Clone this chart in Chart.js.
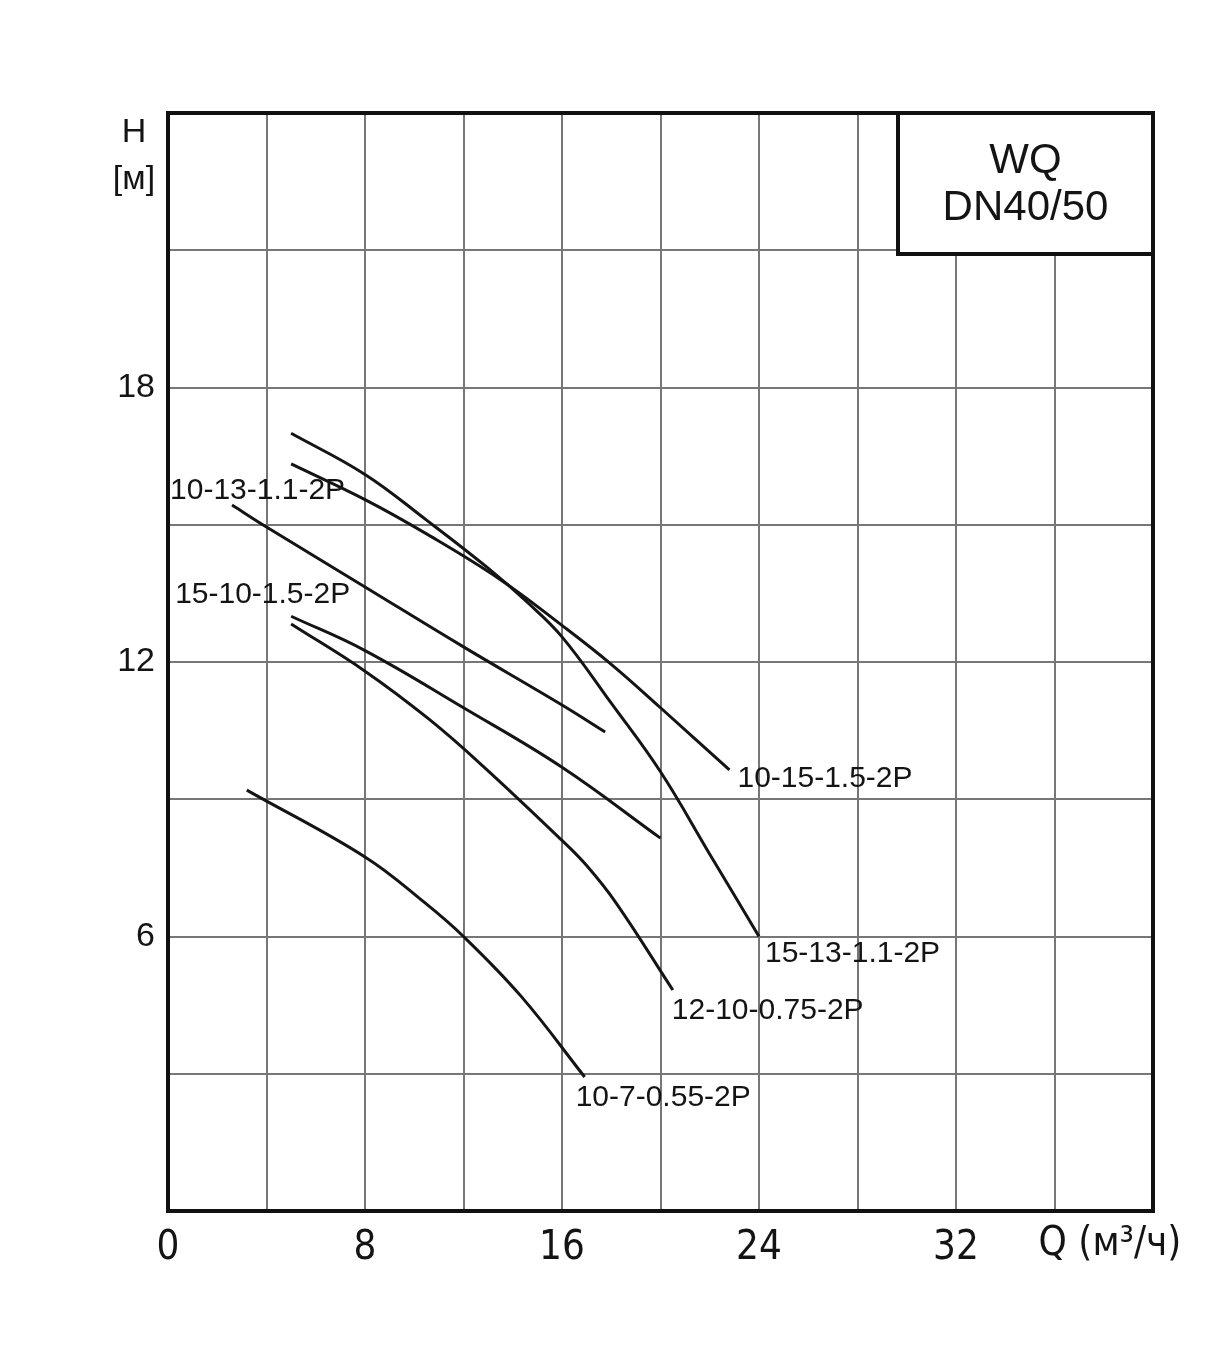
<!DOCTYPE html>
<html>
<head>
<meta charset="utf-8">
<script src="https://cdn.jsdelivr.net/npm/chart.js@4.4.1/dist/chart.umd.min.js"></script>
<style>
  html, body { margin: 0; padding: 0; background: #fff; }
  #wrap { width: 1231px; height: 1359px; }
</style>
</head>
<body>
<div id="wrap"><canvas id="pumpChart" width="1231" height="1359"></canvas></div>
<script>
// axis ticks
const qTicks = [0, 8, 16, 24, 32];
const hTicks = [6, 12, 18];

// pump curves, Q in m3/h, H in m
const names = ['15-13-1.1-2P', '10-15-1.5-2P', '10-13-1.1-2P', '15-10-1.5-2P', '12-10-0.75-2P', '10-7-0.55-2P'];

const q_15_13 = [5, 8, 10.5, 13, 14.6, 16, 18, 20, 22, 24];
const h_15_13 = [17.0, 16.1, 15.1, 14.05, 13.3, 12.55, 11.1, 9.6, 7.8, 6.0];

const q_10_15 = [5, 8, 10.5, 13.5, 16, 18, 20, 22.8];
const h_10_15 = [16.33, 15.55, 14.8, 13.8, 12.8, 11.95, 11.0, 9.64];

const q_10_13 = [2.6, 4, 8, 12, 16, 17.75];
const h_10_13 = [15.43, 14.95, 13.64, 12.33, 11.06, 10.47];

const q_15_10 = [5, 8, 12, 16, 20];
const h_15_10 = [13.0, 12.25, 11.0, 9.7, 8.15];

const q_12_10 = [5, 8, 10.6, 12.8, 16, 17, 18.2, 20.5];
const h_12_10 = [12.83, 11.8, 10.75, 9.72, 8.1, 7.55, 6.73, 4.83];

const q_10_7 = [3.2, 8, 10.4, 12, 14.36, 16.92];
const h_10_7 = [9.2, 7.74, 6.75, 6.0, 4.68, 2.93];

const qs = [q_15_13, q_10_15, q_10_13, q_15_10, q_12_10, q_10_7];
const hs = [h_15_13, h_10_15, h_10_13, h_15_10, h_12_10, h_10_7];

// where each name sits, relative to the end (or start) of its curve, in px
const labelPlace = [
    { at: 'end', dx: 6, dy: 17 },
    { at: 'end', dx: 8, dy: 9 },
    { at: 'start', dx: -62, dy: -14 },
    { at: 'start', dx: -116, dy: -22 },
    { at: 'end', dx: -1, dy: 21 },
    { at: 'end', dx: -9, dy: 21 }
];

const sans = "'Liberation Sans', Arial, sans-serif";
const narrow = "'Liberation Sans Narrow', 'DejaVu Sans Condensed', sans-serif";

const datasets = names.map((n, i) => ({
    label: n,
    data: qs[i].map((q, j) => ({ x: q, y: hs[i][j] })),
    borderColor: '#141414',
    borderWidth: 3,
    pointRadius: 0,
    fill: false,
    tension: 0.4
}));

const decorations = {
    id: 'decorations',
    afterDatasetsDraw(chart) {
        const ctx = chart.ctx;
        const a = chart.chartArea;
        const xs = chart.scales.x, ys = chart.scales.y;
        ctx.save();

        // curve names
        ctx.fillStyle = '#141414';
        ctx.font = '30px ' + sans;
        ctx.textAlign = 'left';
        ctx.textBaseline = 'middle';
        names.forEach((n, i) => {
            const p = labelPlace[i];
            const k = p.at === 'end' ? qs[i].length - 1 : 0;
            const px = xs.getPixelForValue(qs[i][k]);
            const py = ys.getPixelForValue(hs[i][k]);
            ctx.fillText(n, px + p.dx, py + p.dy);
        });

        // frame
        ctx.strokeStyle = '#111';
        ctx.lineWidth = 4;
        ctx.strokeRect(a.left, a.top, a.right - a.left, a.bottom - a.top);

        // title box
        const bw = 255, bh = 141;
        ctx.fillStyle = '#fff';
        ctx.fillRect(a.right - bw, a.top, bw, bh);
        ctx.strokeRect(a.right - bw, a.top, bw, bh);
        ctx.fillStyle = '#141414';
        ctx.font = '42px ' + sans;
        ctx.textAlign = 'center';
        ctx.fillText('WQ', a.right - bw / 2, a.top + 48);
        ctx.fillText('DN40/50', a.right - bw / 2, a.top + 95);

        // axis names
        ctx.font = '34px ' + sans;
        ctx.fillText('H', 134, a.top + 20);
        ctx.fillText('[м]', 134, a.top + 67);
        ctx.font = '40px ' + narrow;
        ctx.fillText('Q (м³/ч)', 1110, 1245);
        ctx.restore();
    }
};

new Chart(document.getElementById('pumpChart'), {
    type: 'line',
    data: { datasets: datasets },
    options: {
        responsive: false,
        animation: false,
        layout: { padding: { left: 0, top: 113, right: 78, bottom: 0 } },
        scales: {
            x: {
                type: 'linear',
                min: 0,
                max: 40,
                afterFit: s => { s.height = 148; },
                afterBuildTicks: s => { s.ticks = [0, 4, 8, 12, 16, 20, 24, 28, 32, 36, 40].map(v => ({ value: v })); },
                grid: { color: '#777', lineWidth: 2, drawTicks: false },
                border: { display: false },
                ticks: {
                    padding: 14,
                    color: '#141414',
                    font: { family: narrow, size: 40 },
                    maxRotation: 0,
                    autoSkip: false,
                    callback: v => qTicks.includes(v) ? String(v) : ''
                }
            },
            y: {
                type: 'linear',
                min: 0,
                max: 24,
                afterFit: s => { s.width = 168; },
                afterBuildTicks: s => { s.ticks = [0, 3, 6, 9, 12, 15, 18, 21, 24].map(v => ({ value: v })); },
                grid: { color: '#777', lineWidth: 2, drawTicks: false },
                border: { display: false },
                ticks: {
                    padding: 13,
                    color: '#141414',
                    font: { family: sans, size: 34 },
                    autoSkip: false,
                    callback: v => hTicks.includes(v) ? String(v) : ''
                }
            }
        },
        plugins: {
            legend: { display: false },
            tooltip: { enabled: false }
        }
    },
    plugins: [decorations]
});
</script>
</body>
</html>
